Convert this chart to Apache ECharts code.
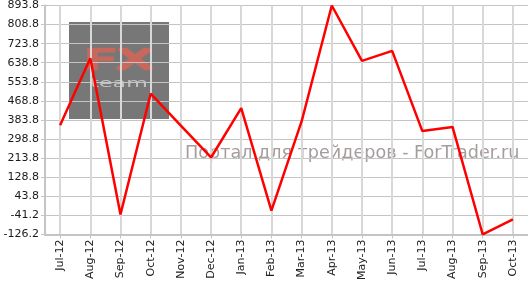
<!DOCTYPE html>
<html>
<head>
<meta charset="utf-8">
<script src="https://cdn.jsdelivr.net/npm/echarts@6/dist/echarts.min.js"></script>
<style>
html,body{margin:0;padding:0;background:#fff;}
#chart{width:528px;height:283px;}
</style>
</head>
<body>
<div id="chart"></div>
<script>
var categories = ['Jul-12','Aug-12','Sep-12','Oct-12','Nov-12','Dec-12','Jan-13','Feb-13','Mar-13','Apr-13','May-13','Jun-13','Jul-13','Aug-13','Sep-13','Oct-13'];
var values = [360.1, 658.4, -37.1, 500.9, 359.0, 216.8, 436.3, -19.9, 377.3, 893.8, 647.2, 691.5, 334.3, 352.8, -126.2, -58.6];
var yMin = -126.2;
var yMax = 893.8;
var yStep = 85;
var watermarkLogo = 'FX';
var watermarkSub = 'team';
var watermarkText = 'Портал для трейдеров - ForTrader.ru';

var chart = echarts.init(document.getElementById('chart'), null, {renderer: 'canvas'});
var FONT = '"DejaVu Sans", Verdana, sans-serif';
chart.setOption({
  animation: false,
  backgroundColor: '#ffffff',
  grid: {left: 45, right: 0, top: 2, bottom: 44, containLabel: false, show: false},
  xAxis: {
    type: 'category',
    data: categories,
    boundaryGap: true,
    axisLine: {show: true, onZero: false, lineStyle: {color: '#c4c4c4', width: 2, opacity: 1}},
    axisTick: {show: true, alignWithLabel: true, interval: 0, length: 4, lineStyle: {color: '#c4c4c4', width: 1, opacity: 1}},
    splitLine: {show: true, alignWithLabel: true, interval: 0, lineStyle: {color: '#d8d8d8', width: 2, opacity: 1, type: 'solid'}},
    axisLabel: {rotate: 90, interval: 0, margin: 5, fontFamily: FONT, fontSize: 11, color: '#222222'}
  },
  yAxis: {
    type: 'value',
    min: yMin,
    max: yMax,
    interval: yStep,
    axisLine: {show: true, lineStyle: {color: '#c4c4c4', width: 2, opacity: 1}},
    axisTick: {show: true, length: 4, lineStyle: {color: '#c4c4c4', width: 1, opacity: 1}},
    splitLine: {show: true, lineStyle: {color: '#c4c4c4', width: 1, opacity: 1, type: 'solid'}},
    axisLabel: {margin: 6, fontFamily: FONT, fontSize: 11, color: '#1a1a1a',
      formatter: function (v) { return v.toFixed(1); }}
  },
  graphic: [
    {type: 'rect', z: -10, shape: {x: 69, y: 22, width: 100, height: 97}, style: {fill: '#777777'}},
    {type: 'text', z: -9, x: 119, y: 62, scaleX: 2.1, style: {text: watermarkLogo, font: '26px ' + FONT, fill: 'rgba(0,0,0,0)', stroke: '#c8685c', lineWidth: 2.5, align: 'center', verticalAlign: 'middle'}},
    {type: 'text', z: -9, x: 119, y: 84, scaleX: 1.7, style: {text: watermarkSub, font: '13px ' + FONT, fill: '#c4c4c4', align: 'center', verticalAlign: 'middle'}},
    {type: 'text', z: -9, x: 185, y: 153, style: {text: watermarkText, font: '17.6px ' + FONT, fill: '#a69c9c', align: 'left', verticalAlign: 'middle'}}
  ],
  series: [{
    type: 'line',
    data: values,
    showSymbol: false,
    symbol: 'none',
    lineStyle: {color: '#ff0000', width: 2.5},
    z: 5
  }]
});
</script>
</body>
</html>
